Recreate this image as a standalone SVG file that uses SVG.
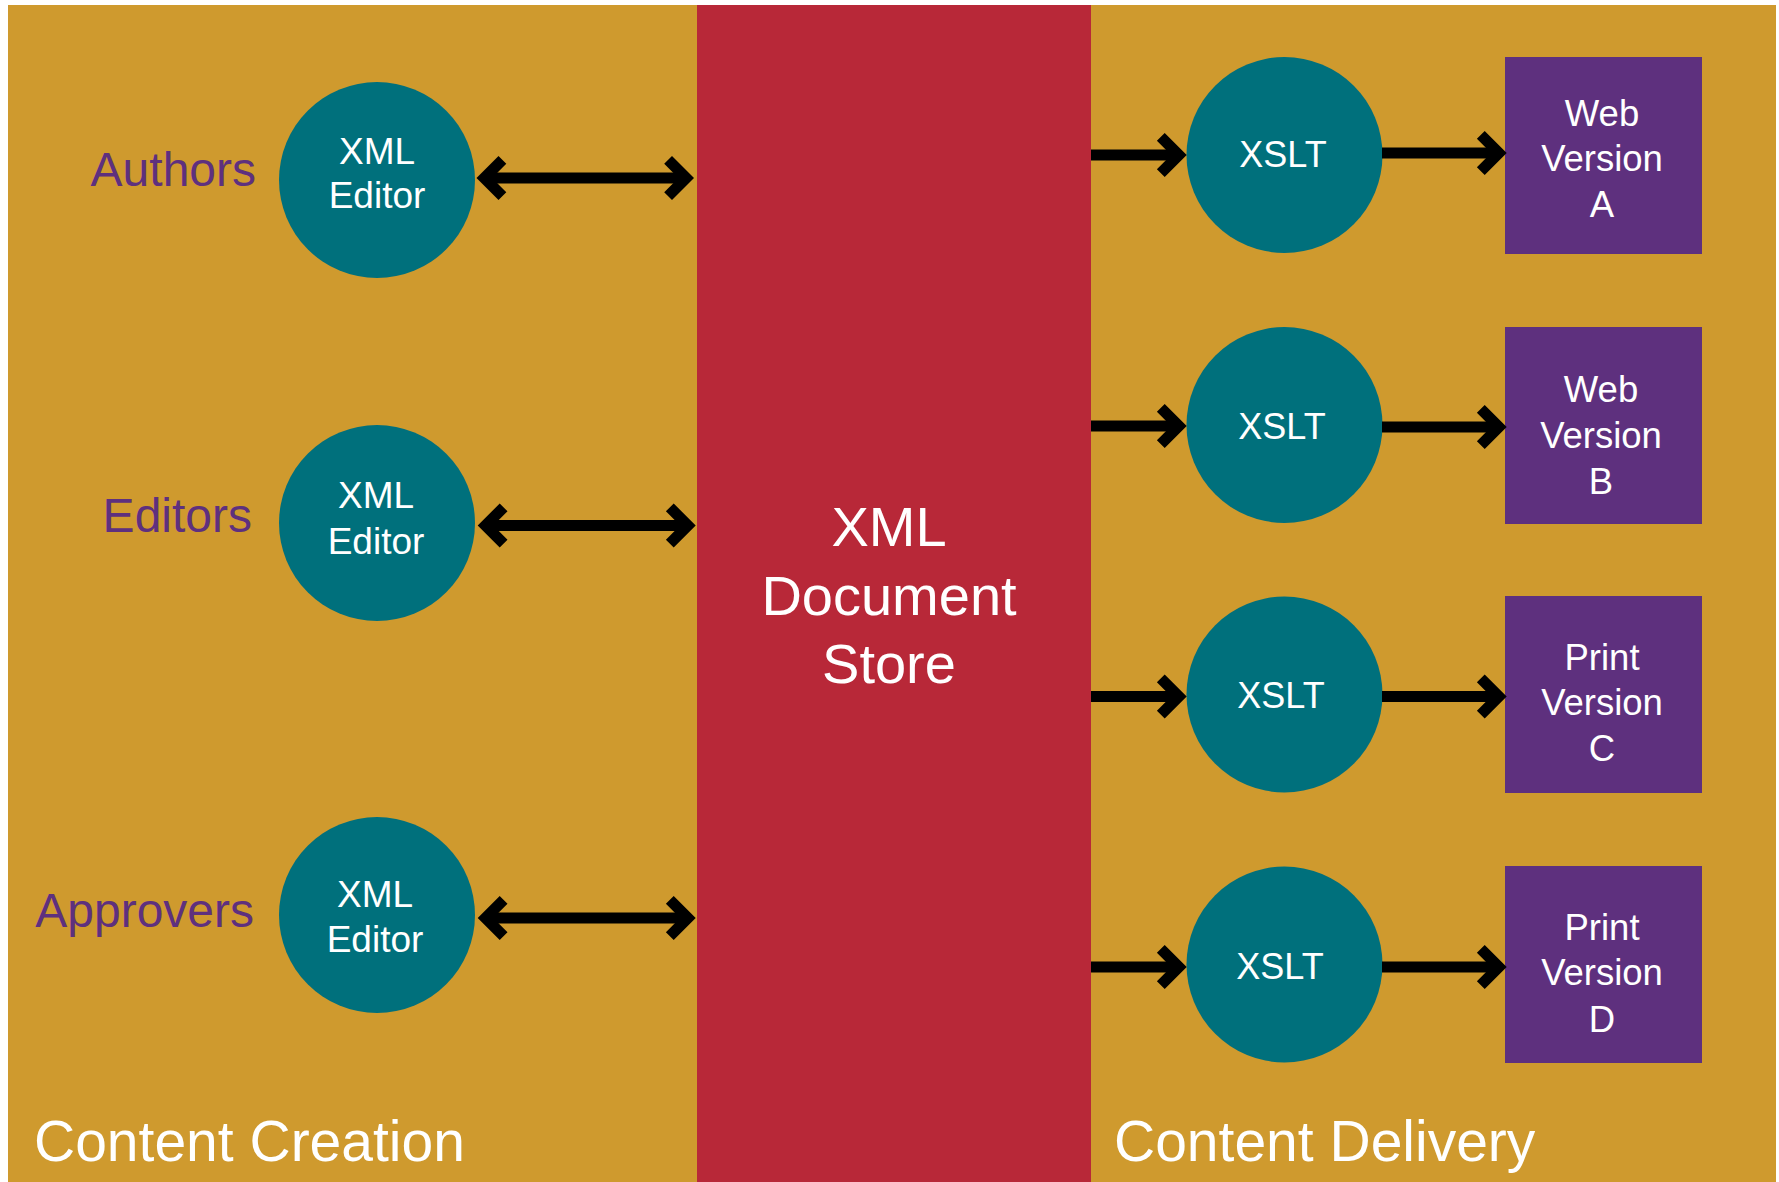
<svg xmlns="http://www.w3.org/2000/svg" xmlns:xlink="http://www.w3.org/1999/xlink" width="1779" height="1182" viewBox="0 0 1779 1182">
<style>
  .bg { fill: #CF9A2E; }
  .store { fill: #B82838; }
  .circ { fill: #00707C; }
  .box { fill: #5E307E; }
  .lbl { font-family: "Liberation Sans", Arial, sans-serif; fill: #ffffff; text-anchor: middle; }
  .role { font-family: "Liberation Sans", Arial, sans-serif; fill: #5E307E; font-size: 48px; text-anchor: end; }
  .zone { font-family: "Liberation Sans", Arial, sans-serif; fill: #ffffff; font-size: 57px; }
  .shaft { stroke: #000000; stroke-width: 11; fill: none; }
  .head { fill: #000000; }
</style>
<defs>
  <path id="chev" d="M0,0 L-22,-22 L-29.8,-14.2 L-15.6,0 L-29.8,14.2 L-22,22 Z"/>
</defs>
<rect width="1779" height="1182" fill="#ffffff"/>
<g id="creation-zone">
  <rect class="bg" x="8" y="5" width="689" height="1177"/>
  <text class="zone" x="34" y="1161">Content Creation</text>
</g>
<g id="delivery-zone">
  <rect class="bg" x="1091" y="5" width="685" height="1177"/>
  <text class="zone" x="1114" y="1161">Content Delivery</text>
</g>
<g id="document-store">
  <rect class="store" x="697" y="5" width="394" height="1177"/>
  <text class="lbl" font-size="56" x="889" y="546">XML</text>
  <text class="lbl" font-size="56" x="889" y="615">Document</text>
  <text class="lbl" font-size="56" x="889" y="683">Store</text>
</g>
<g id="authors"><text class="role" x="256" y="186">Authors</text></g>
<g id="editors"><text class="role" x="252" y="532">Editors</text></g>
<g id="approvers"><text class="role" x="254" y="927">Approvers</text></g>
<g id="editor-1">
  <circle class="circ" cx="377" cy="180" r="98"/>
  <text class="lbl" font-size="37" x="377" y="164">XML</text>
  <text class="lbl" font-size="37" x="377" y="208">Editor</text>
</g>
<g id="editor-2">
  <circle class="circ" cx="377" cy="523" r="98"/>
  <text class="lbl" font-size="37" x="376" y="508">XML</text>
  <text class="lbl" font-size="37" x="376" y="554">Editor</text>
</g>
<g id="editor-3">
  <circle class="circ" cx="377" cy="915" r="98"/>
  <text class="lbl" font-size="37" x="375" y="907">XML</text>
  <text class="lbl" font-size="37" x="375" y="952">Editor</text>
</g>
<g id="xslt-a">
  <circle class="circ" cx="1284.5" cy="155" r="98"/>
  <text class="lbl" font-size="36" x="1283" y="167">XSLT</text>
</g>
<g id="xslt-b">
  <circle class="circ" cx="1284.5" cy="425" r="98"/>
  <text class="lbl" font-size="36" x="1282" y="439">XSLT</text>
</g>
<g id="xslt-c">
  <circle class="circ" cx="1284.5" cy="694.5" r="98"/>
  <text class="lbl" font-size="36" x="1281" y="708">XSLT</text>
</g>
<g id="xslt-d">
  <circle class="circ" cx="1284.5" cy="964.5" r="98"/>
  <text class="lbl" font-size="36" x="1280" y="979">XSLT</text>
</g>
<g id="web-a">
  <rect class="box" x="1505" y="57" width="197" height="197"/>
  <text class="lbl" font-size="36.5" x="1602" y="125.5">Web</text>
  <text class="lbl" font-size="36.5" x="1602" y="171">Version</text>
  <text class="lbl" font-size="36.5" x="1602" y="216.5">A</text>
</g>
<g id="web-b">
  <rect class="box" x="1505" y="327" width="197" height="197"/>
  <text class="lbl" font-size="36.5" x="1601" y="402">Web</text>
  <text class="lbl" font-size="36.5" x="1601" y="448">Version</text>
  <text class="lbl" font-size="36.5" x="1601" y="494">B</text>
</g>
<g id="print-c">
  <rect class="box" x="1505" y="596" width="197" height="197"/>
  <text class="lbl" font-size="36.5" x="1602" y="670">Print</text>
  <text class="lbl" font-size="36.5" x="1602" y="715">Version</text>
  <text class="lbl" font-size="36.5" x="1602" y="761">C</text>
</g>
<g id="print-d">
  <rect class="box" x="1505" y="866" width="197" height="197"/>
  <text class="lbl" font-size="36.5" x="1602" y="940">Print</text>
  <text class="lbl" font-size="36.5" x="1602" y="985">Version</text>
  <text class="lbl" font-size="36.5" x="1602" y="1031.5">D</text>
</g>
<g id="connectors">
  <line class="shaft" x1="485" y1="178" x2="686" y2="178"/>
  <use href="#chev" xlink:href="#chev" class="head" transform="translate(476.5,178) rotate(180)"/>
  <use href="#chev" xlink:href="#chev" class="head" transform="translate(694,178)"/>
  <line class="shaft" x1="486" y1="525.5" x2="688" y2="525.5"/>
  <use href="#chev" xlink:href="#chev" class="head" transform="translate(477.7,525.5) rotate(180)"/>
  <use href="#chev" xlink:href="#chev" class="head" transform="translate(695.7,525.5)"/>
  <line class="shaft" x1="486" y1="918" x2="688" y2="918"/>
  <use href="#chev" xlink:href="#chev" class="head" transform="translate(477.7,918) rotate(180)"/>
  <use href="#chev" xlink:href="#chev" class="head" transform="translate(695.7,918)"/>

  <line class="shaft" x1="1091" y1="155" x2="1178" y2="155"/>
  <use href="#chev" xlink:href="#chev" class="head" transform="translate(1186.7,155)"/>
  <line class="shaft" x1="1382" y1="153" x2="1498" y2="153"/>
  <use href="#chev" xlink:href="#chev" class="head" transform="translate(1506.7,153)"/>

  <line class="shaft" x1="1091" y1="426" x2="1178" y2="426"/>
  <use href="#chev" xlink:href="#chev" class="head" transform="translate(1186.7,426)"/>
  <line class="shaft" x1="1382" y1="427" x2="1498" y2="427"/>
  <use href="#chev" xlink:href="#chev" class="head" transform="translate(1506.7,427)"/>

  <line class="shaft" x1="1091" y1="696.5" x2="1178" y2="696.5"/>
  <use href="#chev" xlink:href="#chev" class="head" transform="translate(1186.7,696.5)"/>
  <line class="shaft" x1="1382" y1="696.5" x2="1498" y2="696.5"/>
  <use href="#chev" xlink:href="#chev" class="head" transform="translate(1506.7,696.5)"/>

  <line class="shaft" x1="1091" y1="967" x2="1178" y2="967"/>
  <use href="#chev" xlink:href="#chev" class="head" transform="translate(1186.7,967)"/>
  <line class="shaft" x1="1382" y1="967" x2="1498" y2="967"/>
  <use href="#chev" xlink:href="#chev" class="head" transform="translate(1506.7,967)"/>
</g>
</svg>
